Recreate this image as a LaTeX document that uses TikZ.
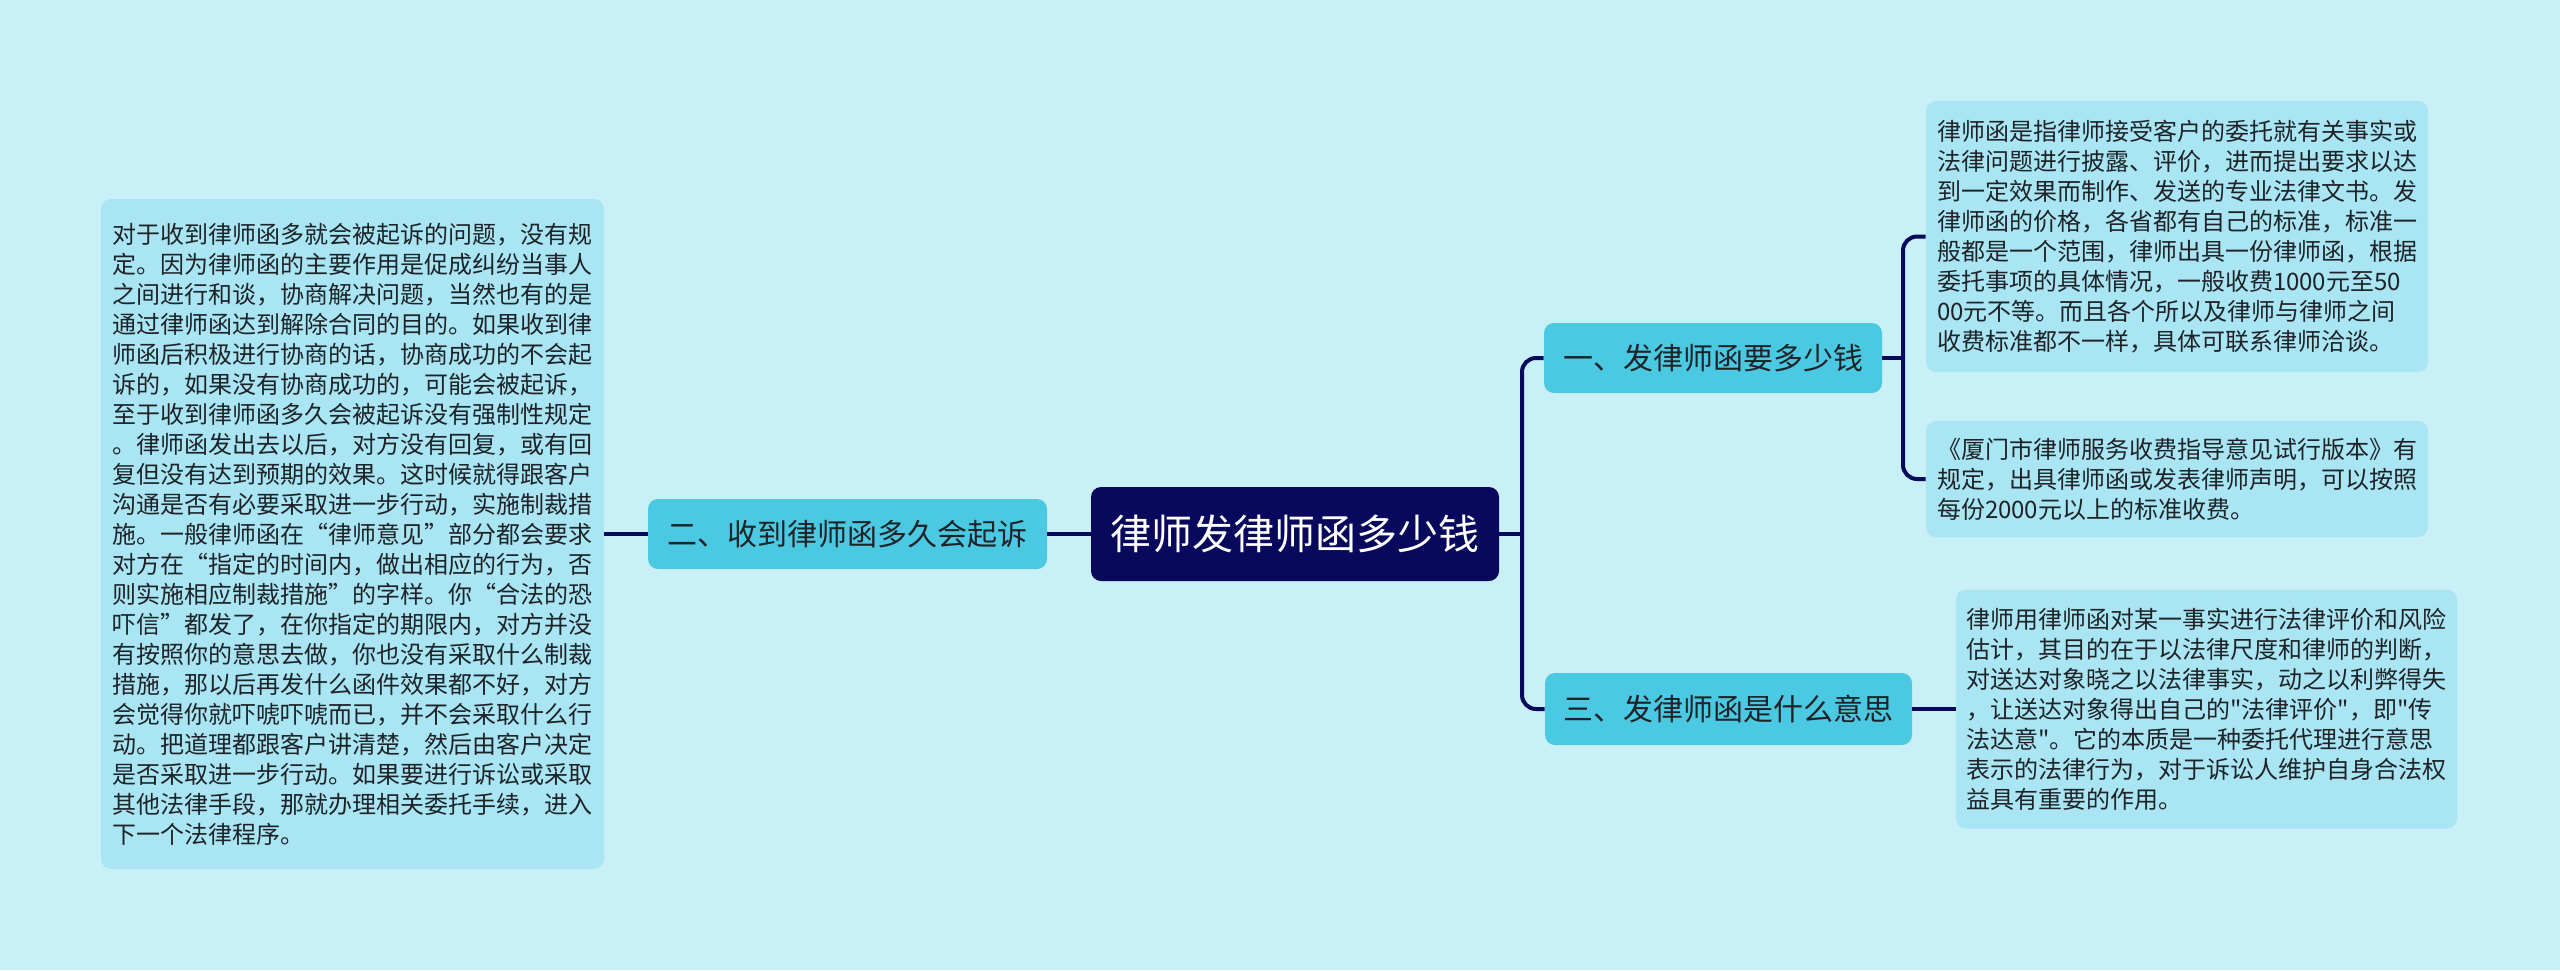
\documentclass[tikz,border=0pt]{standalone}
\usepackage{fontspec}
\newfontfamily\cjk{Noto Sans CJK SC}
\definecolor{bg}{RGB}{201,240,247}
\definecolor{navy}{RGB}{8,8,92}
\definecolor{branch}{RGB}{75,201,227}
\definecolor{leaf}{RGB}{169,229,243}
\definecolor{ink}{RGB}{30,35,40}
\tikzset{
  box/.style={rounded corners=5pt, inner sep=0pt, align=left},
  centerbox/.style={box, fill=navy, text=white, font=\cjk\fontsize{20.5}{24}\selectfont},
  branchbox/.style={box, fill=branch, text=ink, font=\cjk\fontsize{15}{18}\selectfont},
  leafbox/.style={box, fill=leaf, text=ink, font=\cjk\fontsize{12}{15}\selectfont},
  conn/.style={draw=navy, line width=2pt},
  rc/.style={rounded corners=7pt}
}
\begin{document}
\begin{tikzpicture}[x=0.5pt,y=-0.5pt]
\fill[bg] (0,0) rectangle (2560,970);
\useasboundingbox (0,0) rectangle (2560,970);

\node[centerbox, minimum width=204pt, minimum height=47pt] (c) at (1295,534) {律师发律师函多少钱};

\node[branchbox, minimum width=199.5pt, minimum height=35pt] (lb) at (847.5,534) {二、收到律师函多久会起诉};
\node[leafbox, minimum width=251.5pt, minimum height=335pt] (lt) at (352.5,534) {对于收到律师函多就会被起诉的问题，没有规\\
定。因为律师函的主要作用是促成纠纷当事人\\
之间进行和谈，协商解决问题，当然也有的是\\
通过律师函达到解除合同的目的。如果收到律\\
师函后积极进行协商的话，协商成功的不会起\\
诉的，如果没有协商成功的，可能会被起诉，\\
至于收到律师函多久会被起诉没有强制性规定\\
。律师函发出去以后，对方没有回复，或有回\\
复但没有达到预期的效果。这时候就得跟客户\\
沟通是否有必要采取进一步行动，实施制裁措\\
施。一般律师函在“律师意见”部分都会要求\\
对方在“指定的时间内，做出相应的行为，否\\
则实施相应制裁措施”的字样。你“合法的恐\\
吓信”都发了，在你指定的期限内，对方并没\\
有按照你的意思去做，你也没有采取什么制裁\\
措施，那以后再发什么函件效果都不好，对方\\
会觉得你就吓唬吓唬而已，并不会采取什么行\\
动。把道理都跟客户讲清楚，然后由客户决定\\
是否采取进一步行动。如果要进行诉讼或采取\\
其他法律手段，那就办理相关委托手续，进入\\
下一个法律程序。};

\node[branchbox, minimum width=169pt, minimum height=35pt] (b1) at (1713,358) {一、发律师函要多少钱};
\node[branchbox, minimum width=183.5pt, minimum height=36pt] (b3) at (1728.5,709) {三、发律师函是什么意思};

\node[leafbox, minimum width=251pt, minimum height=135.5pt] (r1) at (2177,236.5) {律师函是指律师接受客户的委托就有关事实或\\
法律问题进行披露、评价，进而提出要求以达\\
到一定效果而制作、发送的专业法律文书。发\\
律师函的价格，各省都有自己的标准，标准一\\
般都是一个范围，律师出具一份律师函，根据\\
委托事项的具体情况，一般收费1000元至50\\
00元不等。而且各个所以及律师与律师之间\\
收费标准都不一样，具体可联系律师洽谈。};

\node[leafbox, minimum width=251pt, minimum height=58pt] (r2) at (2177,479) {《厦门市律师服务收费指导意见试行版本》有\\
规定，出具律师函或发表律师声明，可以按照\\
每份2000元以上的标准收费。};

\node[leafbox, minimum width=250.5pt, minimum height=119.5pt] (r3) at (2206.5,709) {律师用律师函对某一事实进行法律评价和风险\\
估计，其目的在于以法律尺度和律师的判断，\\
对送达对象晓之以法律事实，动之以利弊得失\\
，让送达对象得出自己的"法律评价"，即"传\\
法达意"。它的本质是一种委托代理进行意思\\
表示的法律行为，对于诉讼人维护自身合法权\\
益具有重要的作用。};

\coordinate (t) at (1522,534);
\coordinate (t1) at (1903,358);

\draw[conn] (c.west) -- (lb.east);
\draw[conn] (lb.west) -- (lt.east);
\draw[conn] (c.east) -- (t);
\draw[conn, rc] (t) |- (b1.west);
\draw[conn, rc] (t) |- (b3.west);
\draw[conn] (b1.east) -- (t1);
\draw[conn, rc] (t1) |- (r1.west);
\draw[conn, rc] (t1) |- (r2.west);
\draw[conn] (b3.east) -- (r3.west);
\end{tikzpicture}
\end{document}
